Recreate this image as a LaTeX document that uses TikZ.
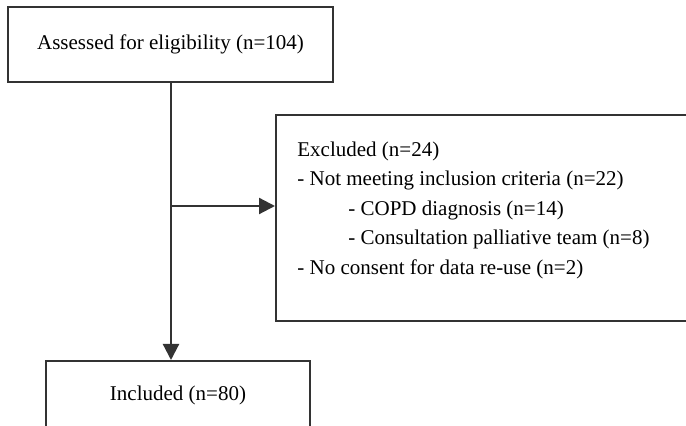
\documentclass[tikz,border=0pt]{standalone}
\usepackage{fontspec}
\setmainfont{Liberation Serif}
\usetikzlibrary{arrows.meta}
\begin{document}
\begin{tikzpicture}[x=0.5pt,y=-0.5pt,
  box/.style={draw=black!80, line width=0.9pt, inner sep=0pt, font=\fontsize{10.5}{14.75}\selectfont},
  lbl/.style={anchor=base west, inner sep=0pt, font=\fontsize{10.5}{14.75}\selectfont},
  conn/.style={draw=black!80, line width=1.1pt, -{Triangle[length=8pt,width=8pt]}}]
\path[use as bounding box, clip] (0,0) rectangle (686,426);
\node[box, minimum width=162.5pt, minimum height=37.5pt] (assess) at (170.5,44.5) {Assessed for eligibility (n=104)};
\node[box, anchor=north west, minimum width=215pt, minimum height=103pt] (excl) at (275,114) {};
\node[box, anchor=north, minimum width=132pt, minimum height=35pt] (incl) at (178,360) {Included (n=80)};
\node[lbl] (l1) at (297,157) {Excluded (n=24)};
\node[lbl] (l2) at (297,186) {- Not meeting inclusion criteria (n=22)};
\node[lbl] (l3) at (348,216) {- COPD diagnosis (n=14)};
\node[lbl] (l4) at (348,245) {- Consultation palliative team (n=8)};
\node[lbl] (l5) at (297,275) {- No consent for data re-use (n=2)};
\coordinate (branch) at (171,206);
\draw[conn] (assess.south -| branch) -- (incl.north -| branch);
\draw[conn] (branch) -- (branch -| excl.west);
\end{tikzpicture}
\end{document}
